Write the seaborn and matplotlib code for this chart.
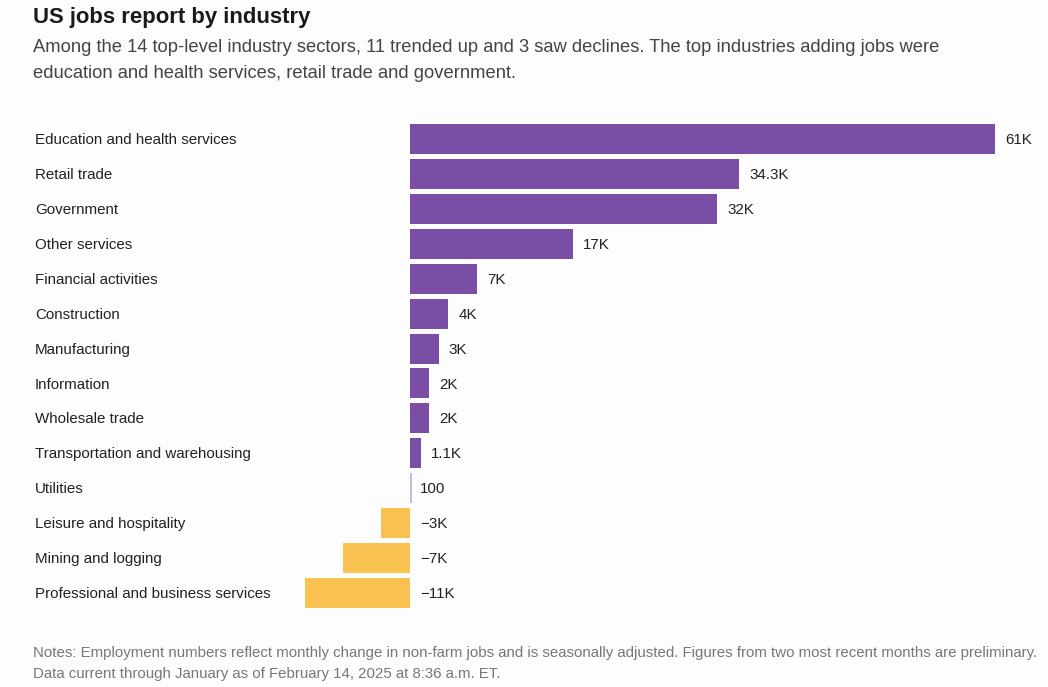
import matplotlib
matplotlib.use("Agg")
import matplotlib.pyplot as plt
import matplotlib.transforms as mtransforms
import seaborn as sns
import pandas as pd

industries = [
    "Education and health services", "Retail trade", "Government", "Other services",
    "Financial activities", "Construction", "Manufacturing", "Information",
    "Wholesale trade", "Transportation and warehousing", "Utilities",
    "Leisure and hospitality", "Mining and logging", "Professional and business services",
]
values_k = [61, 34.3, 32, 17, 7, 4, 3, 2, 2, 1.1, 0.1, -3, -7, -11]
value_labels = ["61K", "34.3K", "32K", "17K", "7K", "4K", "3K", "2K", "2K", "1.1K",
                "100", "\u22123K", "\u22127K", "\u221211K"]

PURPLE = "#7a4ea4"
YELLOW = "#f9c14f"

sns.set_theme(style="white")
plt.rcParams["font.family"] = ["Liberation Sans", "DejaVu Sans"]

df = pd.DataFrame({"industry": industries, "value": values_k})
df["sign"] = ["up" if v >= 0 else "down" for v in values_k]

W, H = 1048, 687
fig = plt.figure(figsize=(W / 100, H / 100), dpi=100)
fig.patch.set_facecolor("#fdfdfd")

ax_left, ax_right, ax_top, ax_bot = 30, 1040, 120, 612
ax = fig.add_axes([ax_left / W, 1 - ax_bot / H, (ax_right - ax_left) / W, (ax_bot - ax_top) / H])
ax.set_facecolor("#fdfdfd")

sns.barplot(data=df, x="value", y="industry", hue="sign", order=industries,
            palette={"up": PURPLE, "down": YELLOW}, dodge=False, width=0.86,
            legend=False, ax=ax, saturation=1, linewidth=0)
util_idx = industries.index("Utilities")
for p in ax.patches:
    y_c = p.get_y() + p.get_height() / 2
    if abs(y_c - util_idx) < 0.01:
        p.set_facecolor("#c9b9dc")
        p.set_width(0.22)

px_per_k = (995 - 410) / 61.0
ax.set_xlim((ax_left - 410) / px_per_k, (ax_right - 410) / px_per_k)
y0 = 139
step = (593 - 139) / 13.0
ax.set_ylim((ax_bot - y0) / step, (ax_top - y0) / step)

ax.set_xticks([])
ax.set_yticks([])
ax.set_xlabel("")
ax.set_ylabel("")
for s in ax.spines.values():
    s.set_visible(False)

blend = mtransforms.blended_transform_factory(fig.transFigure, ax.transData)
for i, (name, v, lab) in enumerate(zip(industries, values_k, value_labels)):
    ax.text(35 / W, i + 0.03, name, transform=blend, ha="left", va="center",
            fontsize=10.9, color="#222222")
    xpos = max(v, 0) + 10 / px_per_k
    if v == 0.1:
        xpos = 10 / px_per_k
    ax.text(xpos, i + 0.03, lab, ha="left", va="center", fontsize=10.9, color="#222222")

fig.text(33 / W, 1 - 18 / H, "US jobs report by industry", ha="left", va="center",
         fontsize=15.9, fontweight="bold", color="#1a1a1a")
fig.text(33 / W, 1 - 47 / H,
         "Among the 14 top-level industry sectors, 11 trended up and 3 saw declines. The top industries adding jobs were",
         ha="left", va="center", fontsize=13.25, color="#444444")
fig.text(33 / W, 1 - 73 / H, "education and health services, retail trade and government.",
         ha="left", va="center", fontsize=13.25, color="#444444")

fig.text(33 / W, 1 - 653 / H,
         "Notes: Employment numbers reflect monthly change in non-farm jobs and is seasonally adjusted. Figures from two most recent months are preliminary.",
         ha="left", va="center", fontsize=10.8, color="#777777")
fig.text(33 / W, 1 - 674 / H, "Data current through January as of February 14, 2025 at 8:36 a.m. ET.",
         ha="left", va="center", fontsize=10.8, color="#777777")

fig.savefig("out.png", dpi=100, facecolor=fig.get_facecolor())
